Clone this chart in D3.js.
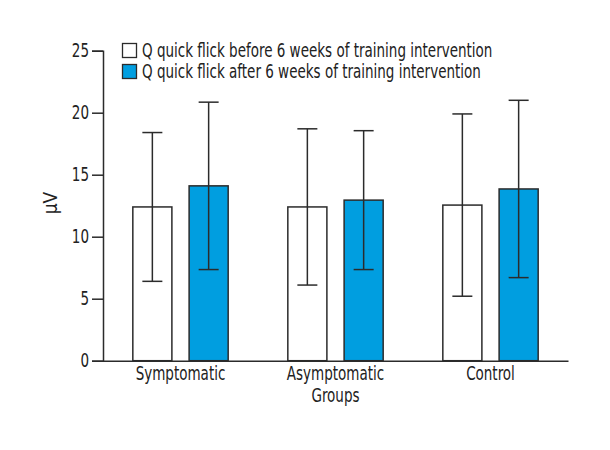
<!DOCTYPE html>
<html><head><meta charset="utf-8">
<script src="https://cdn.jsdelivr.net/npm/d3@7"></script>
<style>body{margin:0;background:#fff;} text{font-family:"Liberation Sans Narrow","DejaVu Sans Condensed",sans-serif;}</style>
</head><body><svg id="c" width="610" height="450"></svg>
<script>
const groups = ["Symptomatic", "Asymptomatic", "Control"];
const seriesNames = ["Q quick flick before 6 weeks of training intervention", "Q quick flick after 6 weeks of training intervention"];
const beforeMean = [12.4, 12.4, 12.55];
const beforeSD = [6.0, 6.3, 7.35];
const afterMean = [14.1, 12.95, 13.85];
const afterSD = [6.75, 5.6, 7.15];
const yTicks = [0, 5, 10, 15, 20, 25];
const xTitle = "Groups";
const yTitle = "μV";

const colors = ["#ffffff", "#009ee0"];
const stroke = "#2b2b2b";
const FONT = '"DejaVu Sans Condensed","Liberation Sans Narrow",sans-serif';
const SX = 0.79;
const svg = d3.select("#c");
const x0 = d3.scaleBand().domain(groups).range([103, 568]).padding(0);
const x1 = d3.scaleBand().domain([0,1]).range([0, x0.bandwidth()]).paddingInner(0.306).paddingOuter(0.53);
const y = d3.scaleLinear().domain([0, 25]).range([360.7, 50.7]);

function squeeze(sel){
  sel.each(function(){
    const t = d3.select(this);
    const ax = +(t.attr("x")||0);
    const prev = t.attr("transform")||"";
    t.attr("transform", `${prev} translate(${ax},0) scale(${SX},1) translate(${-ax},0)`)
     .style("font-family", FONT).attr("font-size",19).attr("fill","#222");
  });
}

const data = [];
groups.forEach((g,i)=>{
  data.push({g, s:0, m:beforeMean[i], sd:beforeSD[i]});
  data.push({g, s:1, m:afterMean[i], sd:afterSD[i]});
});

svg.append("g").selectAll("rect").data(data).join("rect")
  .attr("x", d=>x0(d.g)+x1(d.s)).attr("width", x1.bandwidth())
  .attr("y", d=>y(d.m)).attr("height", d=>y(0)-y(d.m))
  .attr("fill", d=>colors[d.s]).attr("stroke", stroke).attr("stroke-width", 1.5);

const eb = svg.append("g").attr("stroke", stroke).attr("stroke-width", 1.5);
data.forEach(d=>{
  const cx = x0(d.g)+x1(d.s)+x1.bandwidth()/2;
  eb.append("line").attr("x1",cx).attr("x2",cx).attr("y1",y(d.m+d.sd)).attr("y2",y(d.m-d.sd));
  [d.m+d.sd, d.m-d.sd].forEach(v=>eb.append("line").attr("x1",cx-10).attr("x2",cx+10).attr("y1",y(v)).attr("y2",y(v)));
});

const yAxis = svg.append("g").attr("transform","translate(103,0)")
  .call(d3.axisLeft(y).tickValues(yTicks).tickSize(11).tickPadding(3));
yAxis.select(".domain").attr("stroke", stroke).attr("stroke-width",1.5);
yAxis.selectAll(".tick line").attr("stroke", stroke).attr("stroke-width",1.5);
squeeze(yAxis.selectAll("text"));

const xAxis = svg.append("g").attr("transform","translate(0,360.7)")
  .call(d3.axisBottom(x0).tickSize(0).tickPadding(6));
xAxis.select(".domain").attr("stroke", stroke).attr("stroke-width",1.5);
squeeze(xAxis.selectAll("text"));

squeeze(svg.append("text").attr("x", x0("Asymptomatic")+x0.bandwidth()/2).attr("y", 402)
  .attr("text-anchor","middle").text(xTitle));
svg.append("text").attr("transform","translate(57,203) rotate(-90)")
  .attr("text-anchor","middle").attr("font-size",19).attr("fill","#222").style("font-family",FONT).text(yTitle);

const leg = svg.append("g");
seriesNames.forEach((n,i)=>{
  const yy = 43.5 + i*21;
  leg.append("rect").attr("x",122.5).attr("y",yy).attr("width",14).attr("height",14)
    .attr("fill",colors[i]).attr("stroke",stroke).attr("stroke-width",1.3);
  squeeze(leg.append("text").attr("x",142).attr("y",yy+13.5).text(n));
});
</script></body></html>
